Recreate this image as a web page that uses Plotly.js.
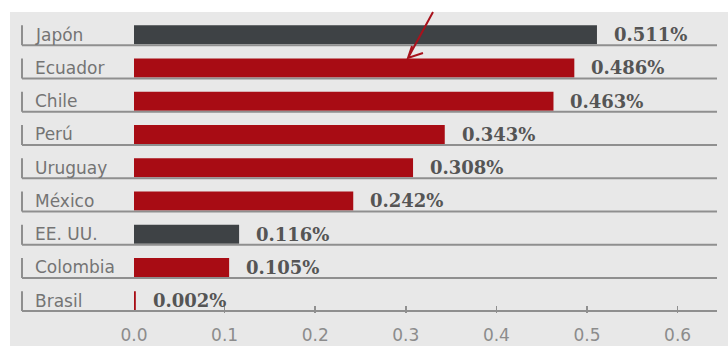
<!DOCTYPE html>
<html>
<head>
<meta charset="utf-8">
<script src="https://cdn.plot.ly/plotly-3.0.1.min.js"></script>
<style>html,body{margin:0;padding:0;background:#fff;}#chart{width:728px;height:346px;}</style>
</head>
<body>
<div id="chart"></div>
<script>
const countries = ["Japón", "Ecuador", "Chile", "Perú", "Uruguay", "México", "EE. UU.", "Colombia", "Brasil"];
const values = [0.511, 0.486, 0.463, 0.343, 0.308, 0.242, 0.116, 0.105, 0.002];
const valueLabels = ["0.511%", "0.486%", "0.463%", "0.343%", "0.308%", "0.242%", "0.116%", "0.105%", "0.002%"];
const highlight = [true, false, false, false, false, false, true, false, false];
const xTicks = [0, 0.1, 0.2, 0.3, 0.4, 0.5, 0.6];
const xTickLabels = ["0.0", "0.1", "0.2", "0.3", "0.4", "0.5", "0.6"];

const RED = "#a80c14", DARK = "#3e4245", LINE = "#8f8f8f", BG = "#e8e8e8";
const W = 728, H = 346, L = 134, R = 11, T = 12, B = 33;
const pw = W - L - R, ph = H - T - B;
const px = v => (v - L) / pw;
const py = v => (H - B - v) / ph;

const trace = {
  type: "bar", orientation: "h",
  x: values, y: countries,
  width: 0.57, offset: -0.1,
  marker: {color: highlight.map(h => h ? DARK : RED)},
  hoverinfo: "skip"
};

const shapes = [{
  type: "rect", xref: "paper", yref: "paper", layer: "below",
  x0: px(10), x1: px(W), y0: py(H), y1: py(T), fillcolor: BG, line: {width: 0}
}];
countries.forEach((c, i) => {
  shapes.push({type: "line", xref: "paper", yref: "y", x0: px(22), x1: px(717), y0: i + 0.5, y1: i + 0.5, line: {color: LINE, width: 2}});
  shapes.push({type: "line", xref: "paper", yref: "y", x0: px(22), x1: px(22), y0: i + 0.5, y1: i - 0.1, line: {color: LINE, width: 2}});
});
// hand-drawn arrow
shapes.push({
  type: "path", xref: "paper", yref: "paper",
  path: `M ${px(433)} ${py(12)} L ${px(408)} ${py(58)} M ${px(412)} ${py(46)} L ${px(408)} ${py(58)} L ${px(423)} ${py(53)}`,
  line: {color: "#a8121c", width: 2}
});

const annotations = [];
countries.forEach((c, i) => {
  annotations.push({
    xref: "paper", yref: "y", x: px(33), y: c, text: c, showarrow: false,
    xanchor: "left", yanchor: "middle", yshift: -6,
    font: {family: "DejaVu Sans", size: 17, color: "#747474"}
  });
  annotations.push({
    xref: "x", yref: "y", x: values[i], y: c, text: "<b>" + valueLabels[i] + "</b>", showarrow: false,
    xanchor: "left", yanchor: "middle", xshift: 15, yshift: -6,
    font: {family: "DejaVu Serif", size: 18, color: "#555555"}
  });
});

const layout = {
  width: W, height: H,
  margin: {l: L, r: R, t: T, b: B, pad: 0},
  paper_bgcolor: "#ffffff", plot_bgcolor: "rgba(0,0,0,0)",
  showlegend: false,
  xaxis: {
    range: [0, pw / 906], tickvals: xTicks, ticktext: xTickLabels,
    ticks: "inside", ticklen: 7, tickwidth: 1.5, tickcolor: LINE,
    ticklabelstandoff: 10,
    showgrid: false, zeroline: false, showline: false, fixedrange: true,
    tickfont: {family: "DejaVu Sans", size: 17, color: "#8c8c8c"}
  },
  yaxis: {
    type: "category", autorange: "reversed", range: [8.5, -0.5],
    categoryorder: "array", categoryarray: countries,
    showticklabels: false, showgrid: false, zeroline: false, showline: false, ticks: ""
  },
  shapes: shapes,
  annotations: annotations
};
Plotly.newPlot("chart", [trace], layout, {displayModeBar: false, staticPlot: true});
</script>
</body>
</html>
